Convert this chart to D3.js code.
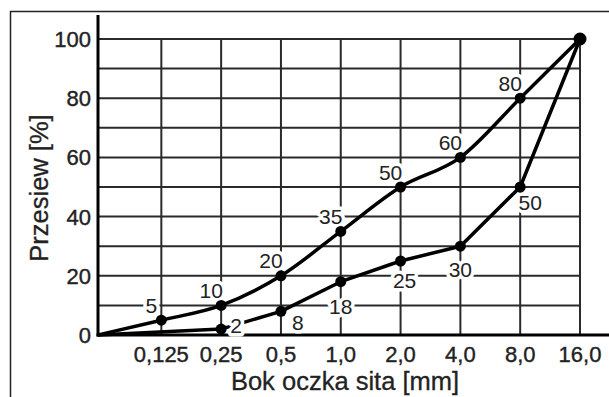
<!DOCTYPE html>
<html>
<head>
<meta charset="utf-8">
<script src="https://cdn.jsdelivr.net/npm/d3@7"></script>
<style>
  body { margin: 0; background: #fff; }
  svg { display: block; font-family: "Liberation Sans", Arial, sans-serif; }
</style>
</head>
<body>
<div id="chart"></div>
<script>
// sieve sizes [mm] and tick labels
const sieveSizes = [0.125, 0.25, 0.5, 1, 2, 4, 8, 16];
const sieveLabels = ["0,125", "0,25", "0,5", "1,0", "2,0", "4,0", "8,0", "16,0"];
// passing [%] for the two limit curves (null = no point)
const upperPass = [5, 10, 20, 35, 50, 60, 80, 100];
const lowerPass = [null, 2, 8, 18, 25, 30, 50, 100];
const yTicks = [0, 20, 40, 60, 80, 100];

/** CONSTANTS */
const width = 609;
const height = 397;
const margins = {top: 39, bottom: 62, left: 98, right: 29};

// label placement (px), not data
const upperLabelShift = [-10, -15];
const lowerLabelShift = [null, [15, -4], [17, 11], [0, 25], [4, 19], [0, 23], [10, 15], null];

/** SCALES */
const xScale = d3.scaleLog().base(2)
  .domain([0.06, 16])
  .range([margins.left, width - margins.right]);

const yScale = d3.scaleLinear()
  .domain([0, 100])
  .range([height - margins.bottom, margins.top]);

const x0 = xScale.domain()[0];

const svg = d3.select("#chart").append("svg")
  .attr("width", width)
  .attr("height", height);

// outer frame
svg.append("rect")
  .attr("x", 10.5).attr("y", 11.5)
  .attr("width", 700).attr("height", 500)
  .attr("fill", "none").attr("stroke", "#222").attr("stroke-width", 1.5);

const gridColor = "#2a2a2a";

// horizontal grid every 10 %
svg.append("g").selectAll("line")
  .data(d3.range(10, 101, 10))
  .join("line")
  .attr("x1", xScale(x0)).attr("x2", xScale(16) + 1)
  .attr("y1", d => yScale(d)).attr("y2", d => yScale(d))
  .attr("stroke", gridColor).attr("stroke-width", 2);

// vertical grid at each sieve size
svg.append("g").selectAll("line")
  .data(sieveSizes)
  .join("line")
  .attr("x1", d => xScale(d)).attr("x2", d => xScale(d))
  .attr("y1", yScale(100)).attr("y2", yScale(0))
  .attr("stroke", gridColor).attr("stroke-width", 2);

// axes
svg.append("line")
  .attr("x1", xScale(x0)).attr("x2", xScale(x0))
  .attr("y1", 15).attr("y2", yScale(0) + 1.5)
  .attr("stroke", "#000").attr("stroke-width", 3);
svg.append("line")
  .attr("x1", xScale(x0) - 1.5).attr("x2", width)
  .attr("y1", yScale(0)).attr("y2", yScale(0))
  .attr("stroke", "#000").attr("stroke-width", 3);

// y tick labels
svg.append("g").selectAll("text")
  .data(yTicks)
  .join("text")
  .attr("x", xScale(x0) - 7)
  .attr("y", d => yScale(d))
  .attr("dy", "0.36em")
  .attr("text-anchor", "end")
  .attr("font-size", 22)
  .attr("fill", "#222").attr("stroke", "#222").attr("stroke-width", 0.4)
  .text(d => d);

// x tick labels
svg.append("g").selectAll("text")
  .data(sieveSizes)
  .join("text")
  .attr("x", d => xScale(d))
  .attr("y", 362)
  .attr("text-anchor", "middle")
  .attr("font-size", 22)
  .attr("fill", "#222").attr("stroke", "#222").attr("stroke-width", 0.4)
  .text((d, i) => sieveLabels[i]);

// axis titles
svg.append("text")
  .attr("x", 345).attr("y", 390)
  .attr("text-anchor", "middle")
  .attr("font-size", 25.5)
  .attr("fill", "#222").attr("stroke", "#222").attr("stroke-width", 0.3)
  .text("Bok oczka sita [mm]");

svg.append("text")
  .attr("transform", "translate(48,188) rotate(-90)")
  .attr("text-anchor", "middle")
  .attr("font-size", 25.5)
  .attr("fill", "#222").attr("stroke", "#222").attr("stroke-width", 0.3)
  .text("Przesiew [%]");

// curves
const upperPts = [[x0, 0]].concat(sieveSizes.map((s, i) => [s, upperPass[i]]));
const lowerPts = [[x0, 0]].concat(sieveSizes.map((s, i) => [s, lowerPass[i]]).filter(d => d[1] !== null));

svg.append("path")
  .datum(upperPts)
  .attr("d", d3.line().x(d => xScale(d[0])).y(d => yScale(d[1])).curve(d3.curveMonotoneX))
  .attr("fill", "none").attr("stroke", "#000").attr("stroke-width", 3.5);

svg.append("path")
  .datum(lowerPts)
  .attr("d", d3.line().x(d => xScale(d[0])).y(d => yScale(d[1])))
  .attr("fill", "none").attr("stroke", "#000").attr("stroke-width", 3.5)
  .attr("stroke-linejoin", "round");

// point labels with white halo
const labelData = [];
sieveSizes.forEach((s, i) => {
  if (upperPass[i] < 100) labelData.push({s, v: upperPass[i], dx: upperLabelShift[0], dy: upperLabelShift[1]});
  if (lowerLabelShift[i]) labelData.push({s, v: lowerPass[i], dx: lowerLabelShift[i][0], dy: lowerLabelShift[i][1]});
});

svg.append("g").selectAll("text")
  .data(labelData)
  .join("text")
  .attr("x", d => xScale(d.s) + d.dx)
  .attr("y", d => yScale(d.v) + d.dy)
  .attr("dy", "0.36em")
  .attr("text-anchor", "middle")
  .attr("font-size", 21)
  .attr("fill", "#222")
  .attr("stroke", "#fff").attr("stroke-width", 7)
  .attr("paint-order", "stroke")
  .attr("stroke-linejoin", "round")
  .text(d => d.v);

// markers
const markers = sieveSizes.map((s, i) => [s, upperPass[i]])
  .concat(sieveSizes.map((s, i) => [s, lowerPass[i]]).filter(d => d[1] !== null && d[1] < 100));

svg.append("g").selectAll("circle")
  .data(markers)
  .join("circle")
  .attr("cx", d => xScale(d[0]))
  .attr("cy", d => yScale(d[1]))
  .attr("r", d => d[1] === 100 ? 6.5 : 5.5)
  .attr("fill", "#000");
</script>
</body>
</html>
